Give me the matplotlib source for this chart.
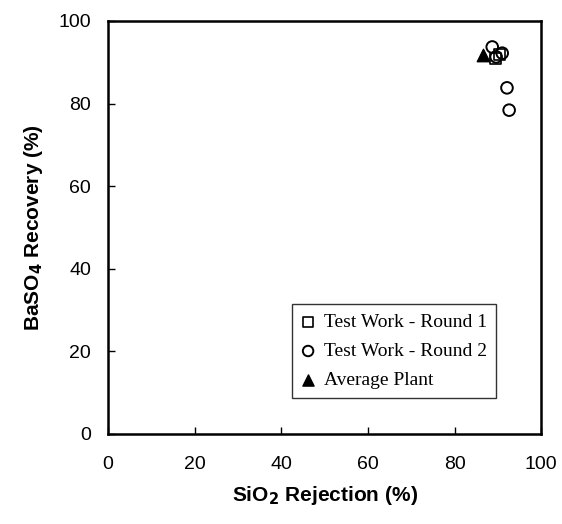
import matplotlib
matplotlib.use("Agg")
import matplotlib.pyplot as plt

# Data
round1_x = [89.5, 90.3]
round1_y = [91.0, 91.8]
round2_x = [88.7, 91.0, 89.6, 92.1, 92.6]
round2_y = [93.7, 92.2, 91.3, 83.8, 78.4]
plant_x = [86.6]
plant_y = [91.8]

xticks = [0, 20, 40, 60, 80, 100]
yticks = [0, 20, 40, 60, 80, 100]

plt.rcParams['font.family'] = ['Liberation Sans', 'DejaVu Sans']

fig = plt.figure(figsize=(5.62, 5.24), dpi=100)
ax = fig.add_axes([0.192, 0.172, 0.771, 0.788])

ax.scatter(round1_x, round1_y, marker='s', s=60, facecolors='none',
           edgecolors='black', linewidths=1.2, label='Test Work - Round 1', zorder=3)
ax.scatter(round2_x, round2_y, marker='o', s=70, facecolors='none',
           edgecolors='black', linewidths=1.4, label='Test Work - Round 2', zorder=3)
ax.scatter(plant_x, plant_y, marker='^', s=80, color='black',
           label='Average Plant', zorder=4)

ax.set_xlim(0, 100)
ax.set_ylim(0, 100)
ax.set_xticks(xticks)
ax.set_yticks(yticks)
ax.tick_params(direction='in', length=5, width=1, labelsize=14)
ax.tick_params(axis='x', pad=16)
ax.tick_params(axis='y', pad=12)
for s in ax.spines.values():
    s.set_linewidth(1.8)

ax.set_xlabel('SiO$_\\mathbf{2}$ Rejection (%)', fontsize=15, fontweight='bold', labelpad=8)
ax.set_ylabel('BaSO$_\\mathbf{4}$ Recovery (%)', fontsize=15, fontweight='bold', labelpad=10)

leg = ax.legend(loc='lower right', bbox_to_anchor=(0.917, 0.063),
                prop={'family': 'Liberation Serif', 'size': 14},
                frameon=True, fancybox=False, edgecolor='black',
                handlelength=0.8, handletextpad=0.4, borderpad=0.45,
                labelspacing=0.6, markerscale=0.9)
leg.get_frame().set_linewidth(1.0)

fig.savefig('out.png', dpi=100)
